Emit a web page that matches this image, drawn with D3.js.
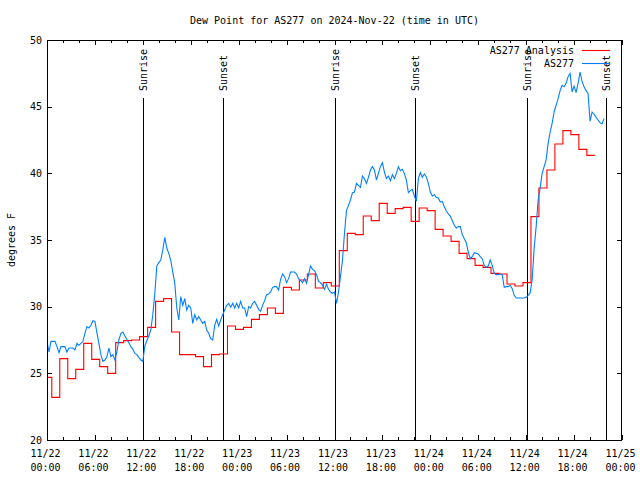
<!DOCTYPE html>
<html><head><meta charset="utf-8">
<script src="https://cdn.jsdelivr.net/npm/d3@7"></script>
<style>
body{margin:0;background:#fff}
svg{display:block}
text{font-family:"DejaVu Sans Mono",monospace;font-size:10px;fill:#000}
</style>
</head><body><svg id="c" width="640" height="480"></svg>
<script>
const chartTitle = "Dew Point for AS277 on 2024-Nov-22 (time in UTC)";
const yAxisLabel = "degrees F";
const startTime = "2024-11-22T00:00:00Z";
const endTime = "2024-11-25T00:00:00Z";
const yTicks = [20, 25, 30, 35, 40, 45, 50];
const seriesNames = ["AS277 Analysis", "AS277"];

// AS277 observations, every 15 minutes from 2024-11-22 00:00 UTC
const obsStepMinutes = 15;
const obsValues = [
27.4,26.6,27.4,27.4,27.4,27.0,26.55,27.0,27.0,27.0,
26.6,26.9,26.9,26.9,26.75,27.25,27.1,27.25,27.4,28.0,
28.5,28.4,28.6,28.95,28.9,28.05,27.25,26.4,25.9,26.0,
26.25,26.9,26.25,26.4,26.0,26.6,27.5,28.0,28.1,27.8,
27.55,27.3,27.0,26.8,26.5,26.4,26.2,26.0,25.9,27.05,
27.45,27.8,28.25,29.4,31.0,33.05,33.3,33.5,34.25,35.2,
34.4,34.0,33.45,32.6,31.75,29.9,29.0,30.75,30.1,30.6,
29.75,30.1,29.9,28.75,29.4,29.0,29.25,29.0,28.75,28.9,
28.25,28.0,27.6,27.5,28.6,29.05,28.55,29.0,29.4,29.75,
30.1,30.25,29.95,30.25,29.9,30.25,29.9,30.4,29.9,29.9,
29.25,30.0,29.9,30.25,30.4,30.1,29.8,29.65,30.1,30.45,
30.9,30.95,31.1,31.45,31.5,31.5,31.25,32.05,32.45,32.25,
31.8,32.1,32.6,32.6,32.6,32.45,32.1,31.95,31.8,32.1,
31.75,32.4,33.05,32.8,32.7,32.4,31.9,31.8,31.6,31.3,
31.7,31.3,31.1,31.0,31.1,30.25,31.1,32.25,33.5,35.5,
37.2,37.6,38.0,38.55,38.6,39.25,39.1,38.95,39.8,39.6,
39.25,39.7,40.25,40.5,40.25,39.5,40.0,40.5,40.8,40.1,
39.6,39.8,39.45,39.9,39.6,40.0,40.5,40.2,40.3,40.0,
39.5,38.55,38.7,38.8,38.3,37.9,39.6,40.05,39.7,39.95,
39.75,39.25,38.6,38.3,38.4,38.2,38.15,37.85,37.9,37.5,
37.2,36.95,36.8,36.45,36.1,35.9,36.0,36.0,35.4,35.1,
34.8,34.1,33.6,33.75,34.05,34.0,33.95,33.75,33.6,33.1,
32.95,33.05,33.5,33.1,32.5,32.4,32.4,32.45,32.4,31.45,
31.5,31.5,31.6,31.35,30.85,30.65,30.65,30.65,30.65,30.65,
30.7,30.85,31.05,32.0,34.4,36.0,38.0,38.9,40.0,40.5,
41.0,42.25,43.1,43.75,44.6,45.1,45.6,46.2,46.6,46.5,
46.75,47.25,47.5,46.1,46.55,46.05,46.75,47.6,46.9,46.5,
46.2,46.0,43.9,44.6,44.45,44.2,44.0,43.8,43.7,44.1
];

// AS277 Analysis: hourly values, each held for one hour (step), first step begins 2024-11-21 23:36 UTC
const analysisFirstTime = "2024-11-21T23:36:00Z";
const analysisStepMinutes = 60;
const analysisValues = [
24.7,23.2,26.1,24.6,25.3,27.25,26.05,25.5,25.0,27.3,
27.45,27.5,27.75,28.45,30.4,30.6,28.1,26.4,26.4,26.25,
25.5,26.4,26.45,28.55,28.3,28.45,29.05,29.4,29.9,29.5,
31.45,31.25,32.0,32.45,31.4,31.8,31.55,34.2,35.5,35.4,
36.8,36.45,37.75,37.0,37.35,37.45,36.4,37.4,37.2,35.8,
35.3,34.9,34.0,33.6,33.1,32.95,32.5,32.45,31.7,31.55,
31.8,36.75,38.9,40.25,42.2,43.2,42.9,41.8,41.35
];

const sunEvents = [
  ["Sunrise", "2024-11-22T12:04:00Z"],
  ["Sunset",  "2024-11-22T22:03:00Z"],
  ["Sunrise", "2024-11-23T12:05:00Z"],
  ["Sunset",  "2024-11-23T22:04:00Z"],
  ["Sunrise", "2024-11-24T12:06:00Z"],
  ["Sunset",  "2024-11-24T22:03:00Z"]
];

const colors = {analysis: "#ff0000", obs: "#0080ff"};
const M = {l: 47, r: 622, t: 40, b: 440};

const svg = d3.select("#c");
const parse = d3.isoParse;
const x = d3.scaleUtc().domain([parse(startTime), parse(endTime)]).range([M.l, M.r]);
const y = d3.scaleLinear().domain([20, 50]).range([M.b, M.t]);

svg.append("rect").attr("width", 640).attr("height", 480).attr("fill", "#fff");

svg.append("clipPath").attr("id", "clip").append("rect")
  .attr("x", M.l).attr("y", M.t).attr("width", M.r - M.l).attr("height", M.b - M.t);

// data
const t0 = parse(startTime).getTime();
const obs = obsValues.map((v, i) => ({t: new Date(t0 + i * obsStepMinutes * 60000), v}));
const a0 = parse(analysisFirstTime).getTime();
const ana = analysisValues.map((v, i) => ({t: new Date(a0 + i * analysisStepMinutes * 60000), v}));
ana.push({t: new Date(a0 + analysisValues.length * analysisStepMinutes * 60000), v: analysisValues[analysisValues.length - 1]});

// sun event lines
const sunG = svg.append("g");
sunEvents.forEach(([name, t]) => {
  const xx = Math.round(x(parse(t))) + 0.5;
  sunG.append("line").attr("x1", xx).attr("x2", xx).attr("y1", 98).attr("y2", M.b)
    .attr("stroke", "#000").attr("stroke-width", 1).attr("shape-rendering", "crispEdges");
  sunG.append("text").attr("transform", `translate(${xx},91) rotate(-90)`)
    .attr("dy", "0.35em").attr("text-anchor", "start").text(name);
});

const plotG = svg.append("g").attr("clip-path", "url(#clip)");
plotG.append("path").datum(ana)
  .attr("fill", "none").attr("stroke", colors.analysis).attr("stroke-width", 1.1)
  .attr("d", d3.line().x(d => x(d.t)).y(d => y(d.v)).curve(d3.curveStepAfter));
plotG.append("path").datum(obs)
  .attr("fill", "none").attr("stroke", colors.obs).attr("stroke-width", 1.1)
  .attr("d", d3.line().x(d => x(d.t)).y(d => y(d.v)));

// axes
const majors = d3.utcHour.every(6).range(parse(startTime), new Date(parse(endTime).getTime() + 1));
const minors = d3.utcHour.every(2).range(parse(startTime), parse(endTime)).filter(d => d.getUTCHours() % 6 !== 0);
const fmtDate = d3.utcFormat("%m/%d"), fmtTime = d3.utcFormat("%H:%M");

function styleAxis(g) {
  g.select(".domain").remove();
  g.selectAll("line").attr("stroke", "#000").attr("shape-rendering", "crispEdges");
  g.attr("font-family", null).attr("font-size", null);
}

const bottom = svg.append("g").attr("transform", `translate(0,${M.b})`)
  .call(d3.axisBottom(x).tickValues(majors).tickSizeInner(-5).tickSizeOuter(0).tickPadding(8).tickFormat(""));
styleAxis(bottom);
bottom.selectAll(".tick text").each(function(d) {
  const s = d3.select(this).attr("dy", null).attr("y", 0);
  s.append("tspan").attr("x", -2).attr("y", 13).attr("dy", "0.35em").text(fmtDate(d));
  s.append("tspan").attr("x", -2).attr("y", 27).attr("dy", "0.35em").text(fmtTime(d));
});
svg.append("g").attr("transform", `translate(0,${M.b})`)
  .call(d3.axisBottom(x).tickValues(minors).tickSizeInner(-3).tickSizeOuter(0).tickFormat("")).call(styleAxis);
svg.append("g").attr("transform", `translate(0,${M.t})`)
  .call(d3.axisTop(x).tickValues(majors).tickSizeInner(-5).tickSizeOuter(0).tickFormat("")).call(styleAxis);
svg.append("g").attr("transform", `translate(0,${M.t})`)
  .call(d3.axisTop(x).tickValues(minors).tickSizeInner(-3).tickSizeOuter(0).tickFormat("")).call(styleAxis);

const left = svg.append("g").attr("transform", `translate(${M.l},0)`)
  .call(d3.axisLeft(y).tickValues(yTicks).tickSizeInner(-5).tickSizeOuter(0).tickPadding(5).tickFormat(d3.format("d")));
styleAxis(left);
svg.append("g").attr("transform", `translate(${M.r},0)`)
  .call(d3.axisRight(y).tickValues(yTicks).tickSizeInner(-5).tickSizeOuter(0).tickFormat("")).call(styleAxis);

// frame
svg.append("rect").attr("x", M.l + 0.5).attr("y", M.t + 0.5).attr("width", M.r - M.l - 1).attr("height", M.b - M.t)
  .attr("fill", "none").attr("stroke", "#000").attr("shape-rendering", "crispEdges");

// title & labels
svg.append("text").attr("x", (M.l + M.r) / 2).attr("y", 20).attr("dy", "0.35em")
  .attr("text-anchor", "middle").text(chartTitle);
svg.append("text").attr("transform", `translate(11,${(M.t + M.b) / 2}) rotate(-90)`)
  .attr("dy", "0.35em").attr("text-anchor", "middle").text(yAxisLabel);

// legend
const legend = svg.append("g");
[[seriesNames[0], colors.analysis, 50], [seriesNames[1], colors.obs, 63]].forEach(([name, c, ly]) => {
  legend.append("text").attr("x", 574).attr("y", ly).attr("dy", "0.35em").attr("text-anchor", "end").text(name);
  legend.append("line").attr("x1", 582).attr("x2", 610).attr("y1", ly + 0.5).attr("y2", ly + 0.5)
    .attr("stroke", c).attr("stroke-width", 1.1);
});
</script>
</body></html>
